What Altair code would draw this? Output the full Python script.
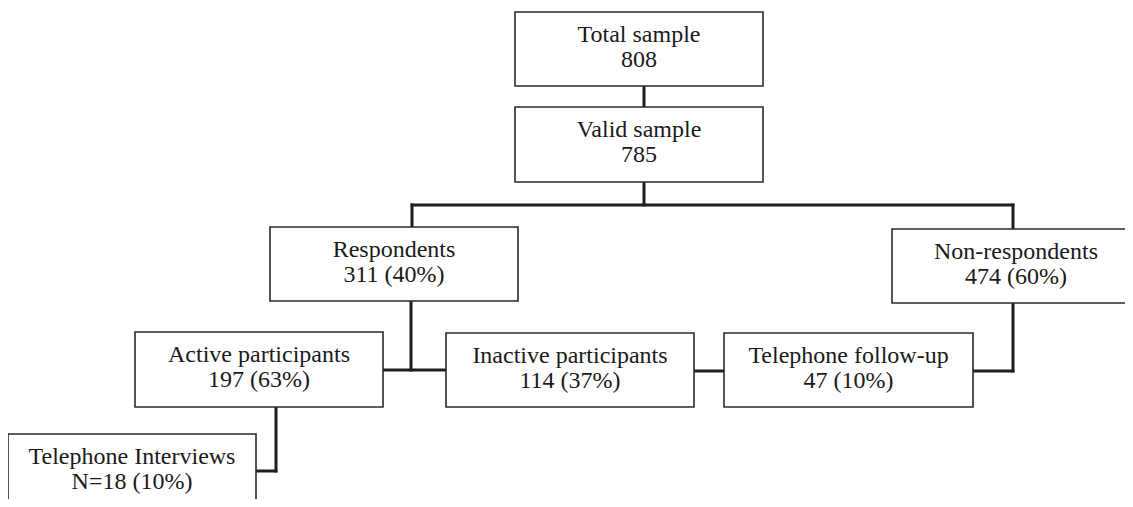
import altair as alt
import pandas as pd

# Boxes of the flow chart
box_line1 = ["Total sample", "Valid sample", "Respondents", "Non-respondents",
             "Active participants", "Inactive participants", "Telephone follow-up",
             "Telephone Interviews"]
box_line2 = ["808", "785", "311 (40%)", "474 (60%)", "197 (63%)", "114 (37%)",
             "47 (10%)", "N=18 (10%)"]
box_left = [515, 515, 270, 892, 135, 446, 724, 8]
box_right = [763, 763, 518, 1140, 383, 694, 973, 256]
box_top = [12, 107, 227, 229, 332, 333, 333, 434]
box_bottom = [86, 182, 301, 303, 407, 407, 407, 520]

# Connector segments
seg_x1 = [644, 644, 412, 412, 1013, 411, 383, 1013, 973, 694, 276, 256]
seg_x2 = [644, 644, 1013, 412, 1013, 411, 446, 1013, 1013, 724, 276, 276]
seg_y1 = [86, 182, 205, 205, 205, 301, 370, 303, 371, 371, 407, 471]
seg_y2 = [107, 205, 205, 227, 229, 370, 370, 371, 371, 371, 471, 471]

boxes = pd.DataFrame({
    "l1": box_line1, "l2": box_line2,
    "x1": box_left, "x2": box_right, "y1": box_top, "y2": box_bottom,
})
boxes["xc"] = (boxes["x1"] + boxes["x2"]) / 2
segs = pd.DataFrame({"x1": seg_x1, "x2": seg_x2, "y1": seg_y1, "y2": seg_y2})

W, H = 1117, 491
xs = alt.Scale(domain=[8, 8 + W], nice=False, zero=False)
ys = alt.Scale(domain=[8, 8 + H], nice=False, zero=False, reverse=True)
noax = None

rules = alt.Chart(segs).mark_rule(color="#1e1e1e", strokeWidth=3, strokeCap="square", clip=True).encode(
    x=alt.X("x1:Q", scale=xs, axis=noax), x2="x2:Q",
    y=alt.Y("y1:Q", scale=ys, axis=noax), y2="y2:Q",
)

rects = alt.Chart(boxes).mark_rect(fill="white", stroke="#2a2a2a", strokeWidth=1.6, clip=True).encode(
    x=alt.X("x1:Q", scale=xs, axis=noax), x2="x2:Q",
    y=alt.Y("y1:Q", scale=ys, axis=noax), y2="y2:Q",
)

font = "Liberation Serif"
t1 = alt.Chart(boxes).mark_text(font=font, fontSize=24, color="#1a1a1a", baseline="alphabetic",
                                align="center", dy=30).encode(
    x=alt.X("xc:Q", scale=xs, axis=noax), y=alt.Y("y1:Q", scale=ys, axis=noax), text="l1:N")
t2 = alt.Chart(boxes).mark_text(font=font, fontSize=24, color="#1a1a1a", baseline="alphabetic",
                                align="center", dy=55).encode(
    x=alt.X("xc:Q", scale=xs, axis=noax), y=alt.Y("y1:Q", scale=ys, axis=noax), text="l2:N")

chart = alt.layer(rules, rects, t1, t2).properties(
    width=W, height=H, padding=0, autosize=alt.AutoSizeParams(type="none"),
    background="white",
).configure_view(stroke=None)

chart.save("out.html", embed_options={"renderer": "svg", "actions": False})
